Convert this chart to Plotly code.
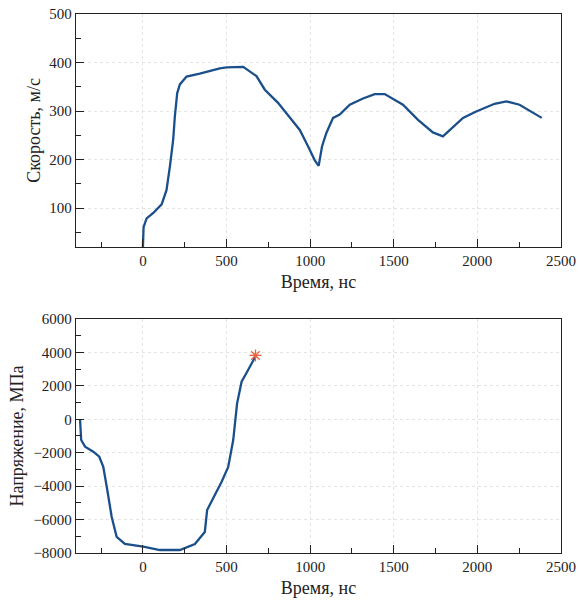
import plotly.graph_objects as go

# Top panel: velocity vs time
t_vel = [0, 4, 22, 62, 112, 141, 161, 181, 191, 205, 221, 261, 340, 460, 500, 600, 679, 729, 808, 878,
         938, 988, 1027, 1051, 1071, 1097, 1137, 1177, 1237, 1316, 1386, 1446, 1555, 1645, 1734, 1794,
         1914, 1993, 2103, 2173, 2252, 2385]
vel = [20, 61, 79, 90, 108, 137, 185, 241, 289, 337, 355, 371, 377, 388, 390, 391, 372, 344, 317, 286,
       261, 227, 199, 187, 227, 255, 286, 293, 313, 326, 335, 335, 313, 282, 256, 248,
       286, 299, 315, 320, 313, 286]

# Bottom panel: stress vs time
t_str = [-376, -369, -346, -297, -261, -237, -213, -187, -157, -108, 2, 102, 221, 261, 311, 370, 384,
         420, 470, 510, 540, 563, 590, 629, 659, 673]
stress = [0, -1240, -1640, -1940, -2240, -2840, -4230, -5830, -7030, -7460, -7620, -7820, -7820, -7660,
          -7460, -6740, -5430, -4730, -3750, -2850, -1240, 940, 2250, 2950, 3450, 3760]
star_t = [673]
star_s = [3820]

LINE = "#1b4f8a"
STAR = "#f0603c"
FONT = "Liberation Serif"
TXT = "#222"
GRID = "#e4e4e4"

fig = go.Figure()
fig.add_trace(go.Scatter(x=t_vel, y=vel, mode="lines", line=dict(color=LINE, width=2.3),
                         xaxis="x", yaxis="y", showlegend=False))
fig.add_trace(go.Scatter(x=t_str, y=stress, mode="lines", line=dict(color=LINE, width=2.3),
                         xaxis="x2", yaxis="y2", showlegend=False))
fig.add_trace(go.Scatter(x=star_t, y=star_s, mode="markers",
                         marker=dict(symbol="asterisk-open", size=10, color=STAR,
                                     line=dict(color=STAR, width=1.3)),
                         xaxis="x2", yaxis="y2", showlegend=False))

xcommon = dict(range=[-400, 2500], dtick=500, tick0=0, ticks="inside", ticklen=8, tickwidth=1.4,
               tickcolor=TXT, showline=True, linecolor=TXT, linewidth=1.3, mirror=True,
               showgrid=True, gridcolor=GRID, griddash="dot", gridwidth=1, zeroline=False,
               automargin=False,
               tickfont=dict(family=FONT, size=15, color=TXT),
               minor=dict(ticks="inside", ticklen=5, tickwidth=1.2, tickcolor=TXT, dtick=250,
                          showgrid=False),
               title=dict(text="Время, нс", font=dict(family=FONT, size=18, color=TXT), standoff=7))
ycommon = dict(ticks="inside", ticklen=8, tickwidth=1.4, tickcolor=TXT, showline=True,
               linecolor=TXT, linewidth=1.3, mirror=True, showgrid=True, gridcolor=GRID,
               griddash="dot", gridwidth=1, zeroline=False, automargin=False,
               tickfont=dict(family=FONT, size=15, color=TXT))

fig.update_layout(
    width=579, height=603, margin=dict(l=0, r=0, t=0, b=0),
    paper_bgcolor="white", plot_bgcolor="white",
    xaxis=dict(domain=[0.1313, 0.9689], anchor="y", **xcommon),
    yaxis=dict(domain=[0.5904, 0.9768], anchor="x", range=[20, 500], dtick=100, tick0=0,
               minor=dict(ticks="inside", ticklen=5, tickwidth=1.2, tickcolor=TXT, dtick=50,
                          showgrid=False),
               title=dict(text="Скорость, м/с", font=dict(family=FONT, size=18, color=TXT),
                          standoff=4),
               **ycommon),
    xaxis2=dict(domain=[0.1313, 0.9689], anchor="y2", **xcommon),
    yaxis2=dict(domain=[0.0829, 0.4710], anchor="x2", range=[-8000, 6000], dtick=2000, tick0=0,
                minor=dict(ticks="inside", ticklen=5, tickwidth=1.2, tickcolor=TXT, dtick=1000,
                           showgrid=False),
                title=dict(text="Напряжение, МПа", font=dict(family=FONT, size=18, color=TXT),
                           standoff=5),
                **ycommon),
)

fig.write_html("out.html")
